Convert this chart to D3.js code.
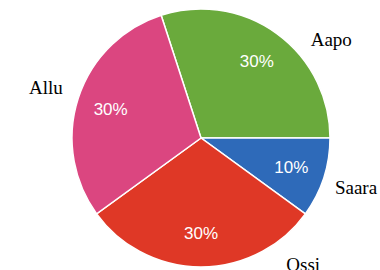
<!DOCTYPE html>
<html>
<head>
<meta charset="utf-8">
<script src="https://cdn.jsdelivr.net/npm/d3@7"></script>
<style>
  body { margin: 0; background: #fff; }
  svg { display: block; }
</style>
</head>
<body>
<svg id="chart" width="380" height="270"></svg>
<script>
  // data
  var names  = [ "Aapo", "Saara", "Ossi", "Allu" ];
  var values = [ 30, 10, 30, 30 ];
  var colors = [ "#6aaa3c", "#2e6ab9", "#df3826", "#db4680" ];

  var cx = 201, cy = 138, radius = 129;

  var svg = d3.select( "#chart" );
  var g = svg.append( "g" ).attr( "transform", "translate(" + cx + "," + cy + ")" );

  var start = -18 * Math.PI / 180;
  var pie = d3.pie().sort( null ).value( function( d ) { return d; } )
              .startAngle( start ).endAngle( start + 2 * Math.PI );
  var arcs = pie( values );

  var arc = d3.arc().innerRadius( 0 ).outerRadius( radius );
  var labelArc = d3.arc().innerRadius( 95 ).outerRadius( 95 );

  g.selectAll( "path.slice" )
    .data( arcs )
    .enter().append( "path" )
    .attr( "class", "slice" )
    .attr( "d", arc )
    .attr( "fill", function( d, i ) { return colors[i]; } )
    .attr( "stroke", "#fff" )
    .attr( "stroke-width", 1.5 );

  var total = d3.sum( values );

  g.selectAll( "text.pct" )
    .data( arcs )
    .enter().append( "text" )
    .attr( "class", "pct" )
    .attr( "text-anchor", "middle" )
    .attr( "dy", "0.36em" )
    .attr( "fill", "#fff" )
    .style( "font-family", "\"Liberation Sans\"" )
    .style( "font-size", "17px" )
    .attr( "transform", function( d ) { return "translate(" + labelArc.centroid( d ) + ")"; } )
    .text( function( d ) { return Math.round( d.value / total * 100 ) + "%"; } );

  // outer labels: on a circle, slid along it when they would leave the frame
  var outerR = 163, minY = 40 - cy, maxY = 265 - cy;
  function outerPos( d ) {
    var a = ( d.startAngle + d.endAngle ) / 2;
    var y = -Math.cos( a ) * outerR;
    if( y < minY || y > maxY ) {
      var lim = y < minY ? minY : maxY;
      var base = Math.acos( -lim / outerR );
      a = Math.sin( a ) >= 0 ? base : 2 * Math.PI - base;
    }
    return [ Math.sin( a ) * outerR, -Math.cos( a ) * outerR ];
  }

  g.selectAll( "text.name" )
    .data( arcs )
    .enter().append( "text" )
    .attr( "class", "name" )
    .attr( "text-anchor", "middle" )
    .attr( "dy", "0.32em" )
    .attr( "fill", "#000" )
    .style( "font-family", "\"Liberation Serif\"" )
    .style( "font-size", "19px" )
    .attr( "transform", function( d ) { return "translate(" + outerPos( d ) + ")"; } )
    .text( function( d, i ) { return names[i]; } );
</script>
</body>
</html>
